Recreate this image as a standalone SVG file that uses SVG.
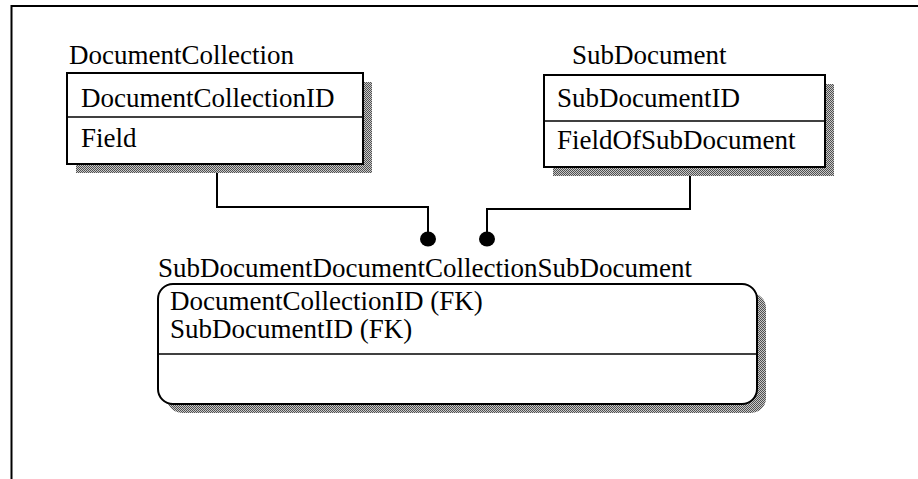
<svg xmlns="http://www.w3.org/2000/svg" width="918" height="479" viewBox="0 0 918 479">
  <style>
    .t { font-family: "Liberation Serif", "Times New Roman", serif; font-size: 27px; fill: #000; }
    .box { fill: #fff; stroke: #000; stroke-width: 2; }
    .div { stroke: #000; stroke-width: 1.5; fill: none; }
    .shadow { fill: url(#chk); }
    .conn { stroke: #000; stroke-width: 2; fill: none; }
  </style>
  <defs>
    <pattern id="chk" width="2" height="2" patternUnits="userSpaceOnUse">
      <rect width="2" height="2" fill="#c8c8c8"/>
      <rect width="1" height="1" fill="#505050"/>
      <rect x="1" y="1" width="1" height="1" fill="#505050"/>
    </pattern>
  </defs>
  <rect width="918" height="479" fill="#fff"/>
  <g id="frame">
    <path d="M11.5 479 V6 H918" stroke="#000" stroke-width="2" fill="none"/>
  </g>
  <g id="connectors">
    <path class="conn" d="M217 164 V207 H428 V239"/>
    <ellipse cx="428" cy="239" rx="8" ry="7.5"/>
    <path class="conn" d="M690 167 V209 H487 V239"/>
    <ellipse cx="487" cy="239" rx="8" ry="7.5"/>
  </g>
  <g id="DocumentCollection">
    <text class="t" x="69" y="64">DocumentCollection</text>
    <rect class="shadow" x="76" y="82" width="296" height="91"/>
    <rect class="box" x="67" y="73" width="296" height="91"/>
    <line class="div" x1="67" y1="117" x2="363" y2="117"/>
    <text class="t" x="81" y="107">DocumentCollectionID</text>
    <text class="t" x="81" y="147">Field</text>
  </g>
  <g id="SubDocument">
    <text class="t" x="572" y="64">SubDocument</text>
    <rect class="shadow" x="553" y="84" width="281" height="92"/>
    <rect class="box" x="544" y="75" width="281" height="92"/>
    <line class="div" x1="544" y1="121" x2="825" y2="121"/>
    <text class="t" x="557" y="107">SubDocumentID</text>
    <text class="t" x="557" y="149">FieldOfSubDocument</text>
  </g>
  <g id="SubDocumentDocumentCollectionSubDocument">
    <text class="t" x="158" y="277">SubDocumentDocumentCollectionSubDocument</text>
    <rect class="shadow" x="167" y="293" width="599" height="120" rx="15"/>
    <rect class="box" x="158" y="284" width="599" height="120" rx="15"/>
    <line class="div" x1="158" y1="354" x2="757" y2="354"/>
    <text class="t" x="170" y="310">DocumentCollectionID (FK)</text>
    <text class="t" x="170" y="338">SubDocumentID (FK)</text>
  </g>
</svg>
